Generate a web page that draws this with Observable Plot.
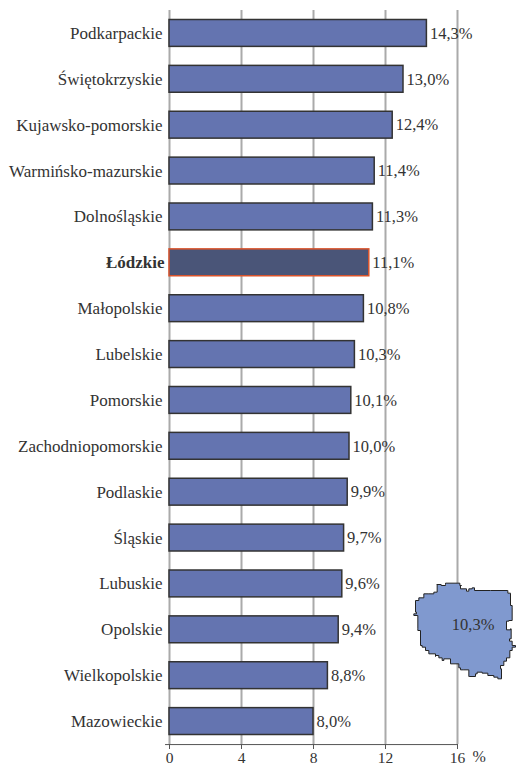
<!DOCTYPE html>
<html>
<head>
<meta charset="utf-8">
<script src="https://cdn.jsdelivr.net/npm/d3@7"></script>
<script src="https://cdn.jsdelivr.net/npm/@observablehq/plot@0.6"></script>
<style>
html,body{margin:0;padding:0;background:#fff;}
#wrap{position:relative;width:516px;height:765px;overflow:hidden;}
#wrap svg{display:block;position:absolute;background:transparent;}
</style>
</head>
<body>
<div id="wrap"></div>
<script>
const regions = ["Podkarpackie","Świętokrzyskie","Kujawsko-pomorskie","Warmińsko-mazurskie","Dolnośląskie","Łódzkie","Małopolskie","Lubelskie","Pomorskie","Zachodniopomorskie","Podlaskie","Śląskie","Lubuskie","Opolskie","Wielkopolskie","Mazowieckie"];
const rates = [14.3,13.0,12.4,11.4,11.3,11.1,10.8,10.3,10.1,10.0,9.9,9.7,9.6,9.4,8.8,8.0];
const highlighted = "Łódzkie";
const xTicks = [0,4,8,12,16];
const nationalLabel = "10,3%";
const unitLabel = "%";
// Outline of Poland (map units)
const mapX = [110,122,135,135,170,178,183,180,198,205,215,222,270,320,322,330,330,335,335,325,318,318,330,332,327,335,345,335,328,318,310,300,303,292,280,262,245,230,225,208,205,190,180,175,150,130,125,115,105,105,85,75,65,60,52,52,40,48,45,55,70,85,100,110];
const mapY = [42,45,42,38,38,45,45,55,62,55,52,60,60,60,68,70,105,112,150,152,152,178,175,205,212,225,230,240,262,272,285,295,325,320,315,308,305,310,318,318,298,298,292,280,265,270,262,255,258,250,240,230,225,180,175,135,130,125,90,82,70,70,65,42];

const rows = regions.map((r,i)=>({region:r, rate:rates[i], label:rates[i].toFixed(1).replace(".",",")+"%"}));
const font = "'Liberation Serif','Times New Roman',serif";
const ink = "#333";

const chart = Plot.plot({
  width:516, height:765,
  marginLeft:169, marginRight:59, marginTop:10, marginBottom:21,
  style:{fontFamily:font, background:"transparent"},
  x:{domain:[0,16], ticks:xTicks, label:null},
  y:{domain:regions, padding:0, round:false, axis:null, label:null},
  marks:[
    Plot.ruleX(xTicks,{stroke:"#aaa", strokeWidth:2}),
    Plot.ruleY([regions[regions.length-1]],{x1:-0.22, x2:16, dy:23, stroke:"#555", strokeWidth:1}),
    Plot.axisX({ticks:xTicks, tickSize:5, tickPadding:2, fontSize:15.5, fill:ink, stroke:"#555", label:null, tickFormat:d=>String(d)}),
    Plot.barX(rows,{y:"region", x1:0, x2:"rate", insetTop:9.5, insetBottom:9.5,
      fill:d=>d.region===highlighted?"#4a5578":"#6474b0",
      stroke:d=>d.region===highlighted?"#d9532b":"#333",
      strokeWidth:1.5}),
    Plot.text(rows.filter(d=>d.region!==highlighted),{y:"region", x:0, text:"region", textAnchor:"end", dx:-7, fontSize:17, fill:ink}),
    Plot.text(rows.filter(d=>d.region===highlighted),{y:"region", x:0, text:"region", textAnchor:"end", dx:-5, fontSize:17, fontWeight:"bold", fill:ink}),
    Plot.text(rows,{y:"region", x:"rate", text:"label", textAnchor:"start", dx:3, fontSize:16.5, fill:ink}),
    Plot.text([unitLabel],{x:()=>17.2, frameAnchor:"bottom", dy:17, text:d=>d, fontSize:16, fill:ink})
  ]
});
chart.style.left="0"; chart.style.top="0";

const outline = mapX.map((x,i)=>({x, y:mapY[i]}));
const inset = Plot.plot({
  width:116, height:120, margin:0,
  style:{fontFamily:font, background:"transparent"},
  x:{domain:[0,348], axis:null},
  y:{domain:[360,0], axis:null},
  marks:[
    Plot.line(outline,{x:"x", y:"y", curve:"step-after", fill:"#8099cf", stroke:"#222", strokeWidth:1}),
    Plot.text([nationalLabel],{x:()=>218, y:()=>163, text:d=>d, fontSize:16.5, fill:ink})
  ]
});
inset.style.left="400px"; inset.style.top="570px";

document.getElementById("wrap").append(chart, inset);
</script>
</body>
</html>
